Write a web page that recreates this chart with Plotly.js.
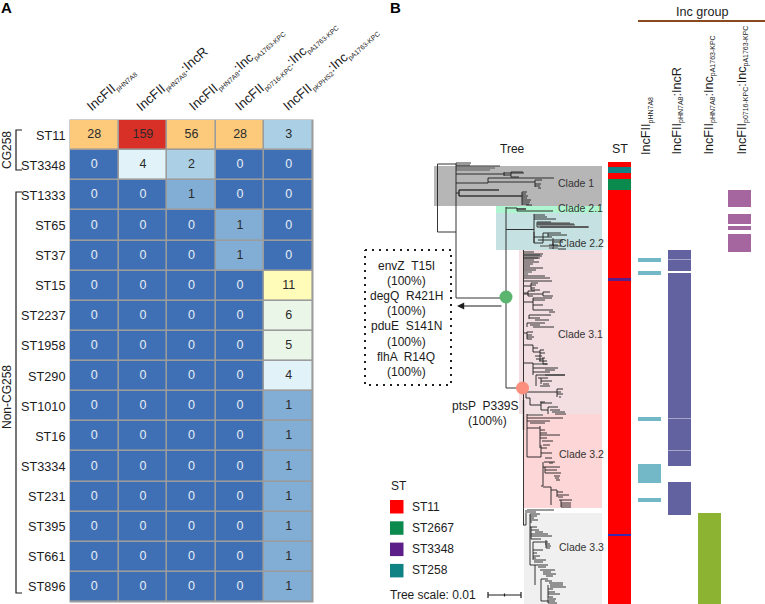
<!DOCTYPE html>
<html><head><meta charset="utf-8">
<script src="https://cdn.plot.ly/plotly-3.0.1.min.js"></script>
<style>html,body{margin:0;padding:0;background:#fff}#c{width:765px;height:604px}</style>
</head><body><div id="c"></div>
<script>
const sequenceTypes = ['ST11','ST3348','ST1333','ST65','ST37','ST15','ST2237','ST1958','ST290','ST1010','ST16','ST3334','ST231','ST395','ST661','ST896'];
const incColumns = ['c1','c2','c3','c4','c5'];
const countMatrix = [
 [28,159,56,28,3],[0,4,2,0,0],[0,0,1,0,0],[0,0,0,1,0],[0,0,0,1,0],[0,0,0,0,11],
 [0,0,0,0,6],[0,0,0,0,5],[0,0,0,0,4],[0,0,0,0,1],[0,0,0,0,1],[0,0,0,0,1],
 [0,0,0,0,1],[0,0,0,0,1],[0,0,0,0,1],[0,0,0,0,1]];
const countLevels = [0,1,2,3,4,5,6,11,28,56,159];
const levelColors = ['#3f70b5','#82aed5','#abd0e6','#abd0e6','#e1f3f8','#eaf6e8','#eaf6e8','#fffcb9','#fdca7c','#fdca7c','#d83026'];

const stBands = [[162,167,'ST11'],[167,173,'ST258'],[173,179,'ST11'],[179,190,'ST2667'],[190,278,'ST11'],[278,281,'ST3348'],[281,534,'ST11'],[534,536,'ST3348b'],[536,604,'ST11']];
const stColors = {ST11:'#fe0000',ST258:'#0f8284',ST2667:'#0a8a4c',ST3348:'#5c1f8a',ST3348b:'#3a28b0'};
const incA = [[258.3,261.5],[271,274.5],[417,420.5],[464,482.5],[498.3,501.7]];
const incB = [[250,258.8],[259.6,271],[273,417.8],[418.6,450],[450.8,465.7],[481.5,499.6],[500.4,515]];
const incC = [[513,604]];
const incD = [[190,206.5],[214,223.5],[226,229.5],[233.5,252]];

const clades = [
 [434,602,166,206,'Clade 1',576,183,'#b6b6b6'],
 [496,602,206,213,'Clade 2.1',580,208,'#aff5cf'],
 [496,602,213,250,'Clade 2.2',581,243,'#c6e1e1'],
 [519,602,250,414,'Clade 3.1',580,334,'#f3dfe1'],
 [524,602,414,508,'Clade 3.2',581,454,'#fdd6d7'],
 [524,602,513,604,'Clade 3.3',581,547,'#f0f0f0']];

const treeHoriz = [
 [164,437.5,456],[232,437.5,456],[298,456,506],[388,506,523],
 [163,456,471],[165,456,470],[166,456,500],[174,456,504],[173,504,524],[175,504,511],[177,511,519],[172,511,523],[178,488,554],[183,456,488],[180,535,542],[182,488,535],[184,535,541],[186,535,540],[188,538,541],
 [193,456,459],[190,459,499],[196,459,522],[192,522,527],[194,522,526],[196,522,528],[198,522,527],[200,522,531],[202,522,530],[204,522,529],[205,526,532],
 [208,506,517],[211,517,553],[209,517,526],
 [229.5,506,534],[215,534,545],[217,534,547],[219,534,556],[222,537,551],[224,537,574],[227,537,589],[243,534,543],[237,534,552],[233,543,561],[235,548,567],[240,538,563],[246,553,561],[249,558,566],[245,549,558],[242,552,563],
 [252,524,534],[254,524,543],[256,524,542],[258,524,540],[260,524,534],[262,524,539],[264,524,533],[266,524,530],[268,524,543],[270,524,536],[276,524,545],[278,524,550],[281,524,552],
 [286,524,531],[283,531,538],[285,531,536],[288,531,535],[290,531,540],[293,524,528],[291,528,535],[296,528,533],[294,524,543],[292,543,550],[296,543,553],
 [302,524,533],[298,533,552],[300,533,545],[305,533,543],[310,533,553],[312,549,555],[315,529,551],[318,529,540],[320,535,549],[323,527,545],[325,530,540],[327,533,554],
 [333,524,527],[332,527,533],[335,527,532],[337,527,534],[339,527,532],
 [345,524,533],[348,533,538],[350,540,544],[353,540,545],[356,535,542],[358,542,545],[352,533,540],[361,539,547],[364,543,547],[359,536,543],
 [363,524,533],[368,533,558],[372,533,550],[370,545,555],[375,536,565],[378,538,548],[381,541,552],[384,543,549],[386,540,550],
 [392,526,557],[389,557,563],[392,557,561],[394,557,563],[397,559,561],
 [398,526,530],[405,530,541],[403,541,552],[402,540,545],[410,541,548],[407,548,558],[410,550,560],[412,552,565],[414,555,566],
 [418,527,563],[421,527,550],[423,530,545],[428,527,540],[430,540,545],[433,540,547],[435,540,560],[438,540,547],[441,542,553],[445,543,550],[448,541,547],[453,541,552],[457,527,541],[458,545,552],[462,544,555],[463,549,553],
 [467,543,560],[470,545,557],[473,545,561],[476,554,560],[478,555,559],[480,556,560],
 [486,541,543],[487,543,551],[490,551,557],[492,557,563],[495,557,569],[497,558,563],[500,559,572],[503,561,571],[505,561,571],[507,561,571],
 [510,527,554],[512,527,536],[514,530,540],[516,530,537],[518,530,534],[520,530,538],[522,530,532],[525,523,526],[527,530,537],[530,531,539],[532,535,543],[534,531,548],[536,531,552],[539,531,541],[542,533,548],[544,545,550],[546,546,551],[548,546,550],
 [550,533,543],[553,533,537],[556,533,540],[558,533,536],[560,534,546],[562,534,543],[565,530,535],
 [565,535,548],[567,538,546],[570,540,555],[572,543,551],[574,543,556],[576,546,553],[579,541,548],[581,545,552],[583,549,563],[585,550,563],[587,550,566],[589,548,553],[592,548,555],[594,548,560],[597,548,553],[599,549,556],[601,549,555],[603,548,557],[601,541,549]
];
const treeVert = [
 [437.5,164,232],[456,163,298],[506,207,388],[523.5,250,525],
 [488,178,183],[504,172,176],[511,172,177],[535,180,187],[459,190,196],[522,192,205],
 [517,208,211],[534,214,243],[537,222,227],[543,233,243],[548,233,237],[553,243,249],
 [531,283,290],[528,291,296],[543,292,296],[533,298,310],[529,315,319],[527,323,327],[527,332,339],
 [533,345,352],[540,350,361],[543,358,364],[533,363,375],[536,375,386],[541,378,384],
 [526,388,398],[557,389,397],[530,398,405],[541,402,410],[548,407,414],
 [527,414,457],[540,426,448],[541,445,457],[543,462,486],[545,467,473],[551,487,505],[557,490,497],[561,500,507],
 [526,510,525],[530,514,565],[531,527,539],[533,542,560],[535,565,585],[541,579,601],[548,585,603],[546,540,548]
];
const denseHoriz = [
 [168,456,495],[170,456,490],[190,459,499],[196,459,522],[209,517,526],[223,538,570],[225,538,575],[227,540,588],[246,540,552],[248,549,558],
 [274,524,528],[272,524,532],[255,524,540],[258,524,538],[375,545,565],[364,533,548],[415,527,543]
];
const denseVert = [[459,190,196],[534,232,243],[553,238,246],[523.5,400,430]];
const nodePoints = [[506,297,'#5cb56f'],[522.5,388,'#fb8e7d']];
const scaleBar = [488,521];

const legendItems = [['ST11','#fe0000'],['ST2667','#0a8a4c'],['ST3348','#5c1f8a'],['ST258','#0f8284']];
const colLabelsA = [
 ['IncFII','pHN7A8',''],
 ['IncFII','pHN7A8',':IncR'],
 ['IncFII','pHN7A8',':Inc','pA1763-KPC'],
 ['IncFII','p0716-KPC',':Inc','pA1763-KPC'],
 ['IncFII','pKPHS2',':Inc','pA1763-KPC']];
const colLabelsB = [colLabelsA[0],colLabelsA[1],colLabelsA[2],colLabelsA[3]];

const FONT='"Liberation Sans", Arial, sans-serif', INK='#1c1c1c';
function sub(s,sz){return '<sub><span style="font-size:'+sz+'px">'+s+'</span></sub>';}
function labelHtml(p,sz){return p[0]+sub(p[1],sz)+(p[2]||'')+(p[3]?sub(p[3],sz):'');}

const rank=v=>countLevels.indexOf(v);
const n=countLevels.length;
const colorscale=[];
levelColors.forEach((c,i)=>{colorscale.push([i/n,c]);colorscale.push([(i+1)/n,c]);});

const traces=[];
function barTrace(bands,xc,w,color){
 return {type:'bar',x:bands.map(()=>xc),y:bands.map(b=>b[1]-b[0]),base:bands.map(b=>b[0]),width:w,marker:{color:color,line:{width:0}},hoverinfo:'skip'};
}
traces.push(barTrace([[250,271],[273,465.7],[481.5,515]],679.5,23,'#a6a7cb'));
traces.push(barTrace(stBands,619.5,23,stBands.map(b=>stColors[b[2]])));
traces.push(barTrace(incA,649.5,23,'#72b8c7'));
traces.push(barTrace(incB,679.5,23,'#61629f'));
traces.push(barTrace(incC,709.5,23,'#8db333'));
traces.push(barTrace(incD,739.5,23,'#a5669f'));

function segs(h,v){const x=[],y=[];
 h.forEach(s=>{x.push(s[1],s[2],null);y.push(s[0],s[0],null);});
 v.forEach(s=>{x.push(s[0],s[0],null);y.push(s[1],s[2],null);});
 return {x,y};}
const t1=segs(denseHoriz,denseVert), t2=segs(treeHoriz,treeVert);
traces.push({type:'scatter',mode:'lines',x:t1.x,y:t1.y,line:{color:'#777777',width:1.5},hoverinfo:'skip',connectgaps:false});
traces.push({type:'scatter',mode:'lines',x:t2.x,y:t2.y,line:{color:'#1e1e1e',width:0.9},hoverinfo:'skip',connectgaps:false});
traces.push({type:'scatter',mode:'markers',x:nodePoints.map(p=>p[0]),y:nodePoints.map(p=>p[1]),marker:{size:13,color:nodePoints.map(p=>p[2])},hoverinfo:'skip'});
traces.push({type:'scatter',mode:'lines',x:[scaleBar[0],scaleBar[1],null,scaleBar[0],scaleBar[0],null,scaleBar[1],scaleBar[1],null,(scaleBar[0]+scaleBar[1])/2,(scaleBar[0]+scaleBar[1])/2],y:[595,595,null,592,598,null,592,598,null,593.5,596.5],line:{color:'#1e1e1e',width:1.2},hoverinfo:'skip'});
const brackets=[[22,16,130,170],[22,16,192,593]];
brackets.forEach(b=>traces.push({type:'scatter',mode:'lines',x:[b[0],b[1],b[1],b[0]],y:[b[2],b[2],b[3],b[3]],line:{color:'#1e1e1e',width:1.2},hoverinfo:'skip'}));
traces.push({type:'scatter',mode:'lines',x:[638,765],y:[21,21],line:{color:'#8b4a1e',width:2},hoverinfo:'skip'});
traces.push({type:'scatter',mode:'lines',x:[365,451,451,365,365],y:[250,250,385,385,250],line:{color:'#1e1e1e',width:2,dash:'2px 5px'},hoverinfo:'skip'});

traces.push({type:'heatmap',x:incColumns,y:sequenceTypes,z:countMatrix.map(r=>r.map(rank)),zmin:0,zmax:n,colorscale,showscale:false,xgap:1.6,ygap:1.6,hoverinfo:'skip',xaxis:'x2',yaxis:'y2'});
const tx=[],ty=[],tt=[],tc=[];
countMatrix.forEach((r,i)=>r.forEach((v,j)=>{tx.push(incColumns[j]);ty.push(sequenceTypes[i]);tt.push(String(v));tc.push(v===0?'#e8eef6':'#2a2a2a');}));
traces.push({type:'scatter',mode:'text',x:tx,y:ty,text:tt,textposition:'middle center',textfont:{family:FONT,size:12.5,color:tc},hoverinfo:'skip',xaxis:'x2',yaxis:'y2'});

const anns=[];
function T(x,y,text,o){anns.push(Object.assign({x,y,text,xref:'x',yref:'y',showarrow:false,font:{family:FONT,size:12,color:INK}},o||{}));}
T(6,7,'<b>A</b>',{font:{family:FONT,size:15,color:'#000'}});
T(395,7,'<b>B</b>',{font:{family:FONT,size:15,color:'#000'}});
const aPos=[[81,118],[131,118],[183,118],[229,118],[277,118]];
colLabelsA.forEach((p,i)=>T(aPos[i][0],aPos[i][1],labelHtml(p,6.8),{textangle:-41,xanchor:'left',yanchor:'bottom',font:{family:FONT,size:13.2,color:INK}}));
const bPos=[[647,157],[677,157],[709,157],[742,157]];
colLabelsB.forEach((p,i)=>T(bPos[i][0],bPos[i][1],labelHtml(p,7),{textangle:-90,yanchor:'bottom',font:{family:FONT,size:12.6,color:INK}}));
T(620,149,'ST',{font:{family:FONT,size:12.5,color:INK}});
T(512,149,'Tree',{font:{family:FONT,size:12,color:INK}});
T(702,12,'Inc group',{font:{family:FONT,size:12.6,color:INK}});
T(7,150,'CG258',{textangle:-90});
T(7,397,'Non-CG258',{textangle:-90});
clades.forEach(c=>T(c[5],c[6],c[4],{font:{family:FONT,size:10.5,color:'#333'}}));
const boxLines=['envZ  T15I','(100%)','degQ  R421H','(100%)','pduE  S141N','(100%)','flhA  R14Q','(100%)'];
boxLines.forEach((s,i)=>T(406,266+i*15.1,s));
T(485,406,'ptsP  P339S');T(487,421,'(100%)');
T(389,486,'ST',{xanchor:'left'});
legendItems.forEach((l,i)=>T(410,506.5+i*21.3,l[0],{xanchor:'left'}));
T(388,595,'Tree scale: 0.01',{xanchor:'left'});
anns.push({x:457,y:306,ax:503,ay:306,xref:'x',yref:'y',axref:'x',ayref:'y',text:'',showarrow:true,arrowhead:2,arrowsize:1.2,arrowwidth:1.2,arrowcolor:'#1e1e1e'});

const shapes=[];
shapes.push({type:'rect',xref:'x',yref:'y',x0:69.5,x1:313.5,y0:119.5,y1:602.5,fillcolor:'#9c9c9c',line:{width:0},layer:'below'});
clades.forEach(c=>shapes.push({type:'rect',xref:'x',yref:'y',x0:c[0],x1:c[1],y0:c[2],y1:c[3],fillcolor:c[7],line:{width:0},layer:'below'}));
legendItems.forEach((l,i)=>shapes.push({type:'rect',xref:'x',yref:'y',x0:390,x1:403.5,y0:500+i*21.3,y1:513.5+i*21.3,fillcolor:l[1],line:{width:0},layer:'below'}));

const layout={width:765,height:604,margin:{l:0,r:0,t:0,b:0},paper_bgcolor:'#fff',plot_bgcolor:'rgba(0,0,0,0)',showlegend:false,barmode:'overlay',bargap:0,
 xaxis:{domain:[0,1],range:[0,765],visible:false,anchor:'y',fixedrange:true},
 yaxis:{domain:[0,1],range:[604,0],visible:false,anchor:'x',fixedrange:true},
 xaxis2:{domain:[70/765,313/765],type:'category',categoryorder:'array',categoryarray:incColumns,range:[-0.5,4.5],showticklabels:false,ticks:'',showgrid:false,zeroline:false,showline:false,anchor:'y2'},
 yaxis2:{domain:[1-602/604,1-120/604],type:'category',categoryorder:'array',categoryarray:sequenceTypes,range:[15.5,-0.5],ticks:'outside',ticklen:1,tickcolor:'rgba(0,0,0,0)',tickfont:{family:FONT,size:12.7,color:INK},showgrid:false,zeroline:false,showline:false,anchor:'x2'},
 annotations:anns,shapes:shapes};
Plotly.newPlot('c',traces,layout,{displayModeBar:false,staticPlot:true});
</script></body></html>
